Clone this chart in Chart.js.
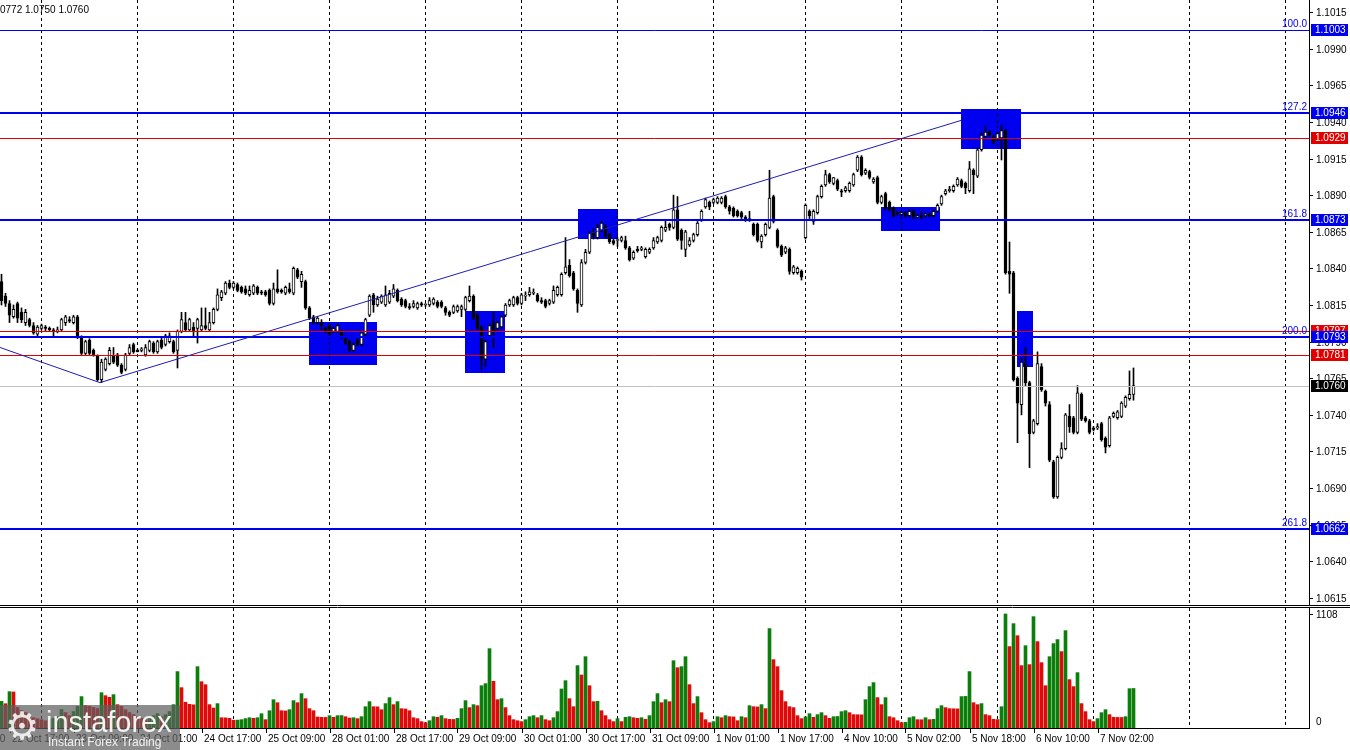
<!DOCTYPE html>
<html>
<head>
<meta charset="utf-8">
<title>EURUSD H1</title>
<script src="https://cdn.jsdelivr.net/npm/chart.js@4.4.1/dist/chart.umd.min.js"></script>
<style>
  html, body { margin: 0; padding: 0; background: #fff; }
  #wrap { position: relative; width: 1350px; height: 750px; overflow: hidden; }
  #priceChart { position: absolute; left: 0; top: 0; }
  #volChart { position: absolute; left: 0; top: 606px; }
  #logo { position: absolute; left: 0; top: 705px; width: 180px; height: 45px; background: rgba(95, 95, 95, 0.72); color: #f2f2f2; font-family: "Liberation Sans", Arial, sans-serif; }
  #logo .gear { position: absolute; left: 5px; top: 0; font: 38px "DejaVu Sans"; line-height: 42px; color: rgba(255,255,255,0.85); }
  #logo .name { position: absolute; left: 46px; top: 2px; font-size: 29px; line-height: 30px; }
  #logo .sub { position: absolute; left: 48px; top: 31px; font-size: 12px; line-height: 13px; }
</style>
</head>
<body>
<div id="wrap">
  <canvas id="priceChart" width="1350" height="606"></canvas>
  <canvas id="volChart" width="1350" height="144"></canvas>
  <div id="logo"><span class="gear">&#9881;</span><span class="name">instaforex</span><span class="sub">Instant Forex Trading</span></div>
</div>
<script>
// EURUSD H1, 22 Oct 14:00 .. 7 Nov 03:00
const opens = [
  1.0831,1.0821,1.0816,1.0807,1.0816,1.0810,1.0803,1.0805,1.0801,1.0795,1.0799,1.0800,1.0799,1.0798,1.0797,1.0798,1.0803,1.0805,1.0803,1.0807,
  1.0793,1.0782,1.0791,1.0784,1.0780,1.0764,1.0771,1.0775,1.0780,1.0781,1.0774,1.0771,1.0782,1.0788,1.0784,1.0784,1.0781,1.0784,1.0789,1.0783,
  1.0791,1.0788,1.0790,1.0790,1.0784,1.0797,1.0803,1.0798,1.0800,1.0799,1.0798,1.0801,1.0798,1.0803,1.0812,1.0820,1.0823,1.0830,1.0827,1.0829,
  1.0827,1.0826,1.0822,1.0823,1.0827,1.0824,1.0824,1.0825,1.0816,1.0826,1.0825,1.0823,1.0826,1.0823,1.0839,1.0831,1.0831,1.0813,1.0807,1.0803,
  1.0803,1.0799,1.0801,1.0797,1.0797,1.0797,1.0793,1.0790,1.0784,1.0791,1.0788,1.0795,1.0808,1.0822,1.0815,1.0817,1.0815,1.0817,1.0821,1.0825,
  1.0819,1.0818,1.0814,1.0814,1.0813,1.0816,1.0815,1.0815,1.0816,1.0817,1.0817,1.0813,1.0810,1.0810,1.0811,1.0812,1.0812,1.0818,1.0821,1.0808,
  1.0800,1.0778,1.0794,1.0803,1.0799,1.0800,1.0808,1.0815,1.0815,1.0820,1.0816,1.0821,1.0822,1.0823,1.0822,1.0818,1.0818,1.0816,1.0817,1.0822,
  1.0822,1.0837,1.0842,1.0837,1.0825,1.0815,1.0844,1.0851,1.0865,1.0861,1.0866,1.0868,1.0863,1.0859,1.0859,1.0859,1.0859,1.0854,1.0847,1.0853,
  1.0853,1.0848,1.0851,1.0854,1.0858,1.0859,1.0866,1.0870,1.0868,1.0880,1.0866,1.0853,1.0856,1.0859,1.0863,1.0873,1.0882,1.0885,1.0885,1.0885,
  1.0885,1.0889,1.0882,1.0881,1.0879,1.0878,1.0875,1.0874,1.0870,1.0870,1.0858,1.0863,1.0868,1.0889,1.0866,1.0855,1.0851,1.0853,1.0837,1.0837,
  1.0838,1.0861,1.0879,1.0872,1.0878,1.0889,1.0897,1.0904,1.0898,1.0900,1.0893,1.0893,1.0893,1.0897,1.0907,1.0916,1.0905,1.0906,1.0899,1.0902,
  1.0885,1.0891,1.0885,1.0881,1.0878,1.0877,1.0878,1.0876,1.0879,1.0875,1.0876,1.0876,1.0877,1.0876,1.0879,1.0884,1.0891,1.0893,1.0893,1.0897,
  1.0900,1.0898,1.0893,1.0907,1.0903,1.0921,1.0930,1.0933,1.0930,1.0928,1.0929,1.0934,1.0838,1.0837,1.0765,1.0747,1.0775,1.0762,1.0728,1.0734,
  1.0773,1.0756,1.0747,1.0708,1.0684,1.0711,1.0717,1.0739,1.0738,1.0728,1.0754,1.0738,1.0736,1.0731,1.0731,1.0734,1.0724,1.0719,1.0739,1.0738,
  1.0739,1.0746,1.0751,1.0754
];
const highs = [
  1.0836,1.0823,1.0818,1.0815,1.0817,1.0813,1.0812,1.0806,1.0803,1.0801,1.0802,1.0801,1.0800,1.0799,1.0800,1.0806,1.0808,1.0807,1.0808,1.0808,
  1.0794,1.0791,1.0792,1.0785,1.0781,1.0778,1.0779,1.0786,1.0786,1.0782,1.0775,1.0782,1.0788,1.0789,1.0785,1.0786,1.0788,1.0791,1.0790,1.0791,
  1.0793,1.0795,1.0796,1.0791,1.0798,1.0810,1.0810,1.0806,1.0803,1.0806,1.0813,1.0813,1.0810,1.0813,1.0826,1.0825,1.0831,1.0832,1.0831,1.0830,
  1.0828,1.0828,1.0828,1.0829,1.0828,1.0825,1.0825,1.0826,1.0830,1.0839,1.0826,1.0828,1.0830,1.0841,1.0840,1.0838,1.0832,1.0814,1.0808,1.0807,
  1.0805,1.0800,1.0802,1.0800,1.0802,1.0798,1.0794,1.0791,1.0789,1.0793,1.0797,1.0806,1.0822,1.0823,1.0821,1.0822,1.0828,1.0825,1.0829,1.0826,
  1.0820,1.0819,1.0816,1.0818,1.0817,1.0817,1.0816,1.0820,1.0820,1.0818,1.0818,1.0814,1.0811,1.0815,1.0815,1.0815,1.0821,1.0828,1.0822,1.0809,
  1.0801,1.0791,1.0802,1.0810,1.0804,1.0808,1.0816,1.0819,1.0821,1.0821,1.0823,1.0824,1.0827,1.0826,1.0823,1.0820,1.0819,1.0819,1.0828,1.0828,
  1.0837,1.0861,1.0846,1.0838,1.0826,1.0846,1.0853,1.0865,1.0867,1.0870,1.0872,1.0870,1.0864,1.0860,1.0861,1.0862,1.0862,1.0855,1.0852,1.0855,
  1.0855,1.0854,1.0854,1.0861,1.0862,1.0869,1.0873,1.0871,1.0890,1.0889,1.0867,1.0866,1.0861,1.0864,1.0872,1.0880,1.0888,1.0886,1.0888,1.0889,
  1.0889,1.0890,1.0883,1.0882,1.0880,1.0879,1.0876,1.0879,1.0871,1.0871,1.0863,1.0871,1.0907,1.0890,1.0867,1.0856,1.0855,1.0854,1.0842,1.0841,
  1.0839,1.0884,1.0880,1.0880,1.0890,1.0897,1.0907,1.0905,1.0902,1.0901,1.0894,1.0896,1.0899,1.0905,1.0917,1.0917,1.0908,1.0907,1.0902,1.0903,
  1.0890,1.0892,1.0886,1.0882,1.0879,1.0879,1.0879,1.0880,1.0880,1.0877,1.0879,1.0878,1.0878,1.0880,1.0884,1.0890,1.0894,1.0896,1.0897,1.0902,
  1.0901,1.0899,1.0913,1.0908,1.0922,1.0933,1.0937,1.0934,1.0931,1.0933,1.0938,1.0935,1.0858,1.0838,1.0766,1.0779,1.0786,1.0763,1.0737,1.0783,
  1.0775,1.0757,1.0749,1.0709,1.0712,1.0721,1.0741,1.0747,1.0739,1.0760,1.0755,1.0739,1.0737,1.0732,1.0734,1.0735,1.0725,1.0739,1.0742,1.0743,
  1.0749,1.0753,1.0770,1.0772
];
const lows = [
  1.0815,1.0814,1.0803,1.0806,1.0803,1.0803,1.0801,1.0800,1.0795,1.0793,1.0798,1.0797,1.0797,1.0794,1.0796,1.0797,1.0801,1.0803,1.0802,1.0792,
  1.0781,1.0781,1.0781,1.0780,1.0763,1.0762,1.0770,1.0774,1.0775,1.0773,1.0768,1.0770,1.0781,1.0782,1.0783,1.0783,1.0780,1.0783,1.0782,1.0782,
  1.0785,1.0787,1.0789,1.0782,1.0772,1.0796,1.0797,1.0797,1.0793,1.0789,1.0797,1.0798,1.0797,1.0802,1.0811,1.0818,1.0822,1.0826,1.0826,1.0824,
  1.0823,1.0822,1.0821,1.0822,1.0822,1.0822,1.0821,1.0815,1.0815,1.0823,1.0823,1.0822,1.0823,1.0822,1.0833,1.0827,1.0812,1.0805,1.0802,1.0802,
  1.0798,1.0796,1.0793,1.0796,1.0796,1.0792,1.0788,1.0783,1.0783,1.0787,1.0787,1.0794,1.0807,1.0810,1.0814,1.0816,1.0814,1.0816,1.0820,1.0817,
  1.0814,1.0813,1.0812,1.0813,1.0812,1.0814,1.0814,1.0814,1.0815,1.0813,1.0813,1.0808,1.0807,1.0809,1.0810,1.0807,1.0811,1.0817,1.0805,1.0798,
  1.0771,1.0773,1.0793,1.0786,1.0798,1.0799,1.0807,1.0814,1.0814,1.0815,1.0815,1.0818,1.0821,1.0822,1.0817,1.0816,1.0813,1.0815,1.0816,1.0821,
  1.0821,1.0836,1.0834,1.0825,1.0810,1.0814,1.0843,1.0850,1.0860,1.0860,1.0865,1.0861,1.0857,1.0856,1.0855,1.0858,1.0853,1.0845,1.0846,1.0851,
  1.0852,1.0847,1.0850,1.0853,1.0857,1.0858,1.0865,1.0866,1.0867,1.0859,1.0853,1.0848,1.0855,1.0858,1.0862,1.0872,1.0881,1.0880,1.0884,1.0884,
  1.0884,1.0881,1.0877,1.0875,1.0875,1.0874,1.0872,1.0872,1.0862,1.0858,1.0854,1.0862,1.0867,1.0871,1.0854,1.0848,1.0850,1.0836,1.0836,1.0836,
  1.0832,1.0860,1.0874,1.0870,1.0877,1.0888,1.0896,1.0898,1.0897,1.0893,1.0889,1.0892,1.0892,1.0896,1.0906,1.0903,1.0904,1.0901,1.0898,1.0884,
  1.0884,1.0880,1.0879,1.0875,1.0876,1.0876,1.0875,1.0875,1.0874,1.0874,1.0874,1.0875,1.0875,1.0875,1.0878,1.0883,1.0890,1.0892,1.0892,1.0896,
  1.0895,1.0891,1.0892,1.0891,1.0902,1.0920,1.0929,1.0930,1.0925,1.0927,1.0914,1.0836,1.0823,1.0763,1.0721,1.0740,1.0760,1.0704,1.0727,1.0733,
  1.0756,1.0746,1.0708,1.0683,1.0683,1.0710,1.0716,1.0728,1.0727,1.0727,1.0736,1.0735,1.0727,1.0729,1.0730,1.0722,1.0714,1.0718,1.0738,1.0737,
  1.0738,1.0745,1.0750,1.0750
];
const closes = [
  1.0818,1.0816,1.0808,1.0812,1.0806,1.0805,1.0810,1.0801,1.0796,1.0800,1.0801,1.0799,1.0798,1.0797,1.0798,1.0805,1.0807,1.0804,1.0807,1.0793,
  1.0782,1.0790,1.0782,1.0781,1.0764,1.0776,1.0778,1.0784,1.0776,1.0774,1.0769,1.0781,1.0786,1.0783,1.0783,1.0785,1.0786,1.0790,1.0783,1.0790,
  1.0786,1.0794,1.0794,1.0783,1.0797,1.0805,1.0798,1.0805,1.0797,1.0805,1.0801,1.0799,1.0803,1.0812,1.0822,1.0824,1.0830,1.0827,1.0830,1.0825,
  1.0824,1.0823,1.0825,1.0828,1.0823,1.0823,1.0822,1.0816,1.0826,1.0824,1.0824,1.0827,1.0824,1.0840,1.0834,1.0836,1.0813,1.0806,1.0803,1.0806,
  1.0801,1.0797,1.0795,1.0799,1.0801,1.0793,1.0789,1.0784,1.0788,1.0788,1.0796,1.0805,1.0821,1.0815,1.0819,1.0821,1.0822,1.0823,1.0826,1.0818,
  1.0815,1.0814,1.0813,1.0816,1.0816,1.0815,1.0815,1.0818,1.0819,1.0814,1.0814,1.0810,1.0808,1.0814,1.0814,1.0814,1.0820,1.0821,1.0806,1.0799,
  1.0778,1.0790,1.0801,1.0797,1.0803,1.0807,1.0815,1.0818,1.0820,1.0816,1.0822,1.0821,1.0824,1.0823,1.0818,1.0817,1.0814,1.0818,1.0825,1.0827,
  1.0836,1.0841,1.0835,1.0826,1.0816,1.0844,1.0851,1.0864,1.0862,1.0868,1.0871,1.0862,1.0858,1.0857,1.0859,1.0861,1.0854,1.0846,1.0851,1.0852,
  1.0854,1.0853,1.0853,1.0859,1.0861,1.0868,1.0868,1.0868,1.0880,1.0860,1.0859,1.0865,1.0859,1.0863,1.0871,1.0879,1.0887,1.0882,1.0887,1.0888,
  1.0888,1.0882,1.0879,1.0876,1.0876,1.0875,1.0873,1.0873,1.0863,1.0859,1.0862,1.0870,1.0888,1.0872,1.0855,1.0849,1.0854,1.0838,1.0841,1.0840,
  1.0834,1.0883,1.0876,1.0879,1.0889,1.0896,1.0904,1.0899,1.0902,1.0894,1.0892,1.0895,1.0898,1.0904,1.0916,1.0904,1.0907,1.0902,1.0901,1.0885,
  1.0889,1.0881,1.0880,1.0876,1.0877,1.0878,1.0876,1.0879,1.0875,1.0876,1.0875,1.0877,1.0876,1.0879,1.0883,1.0889,1.0893,1.0894,1.0896,1.0901,
  1.0896,1.0895,1.0908,1.0904,1.0921,1.0931,1.0933,1.0931,1.0926,1.0932,1.0934,1.0837,1.0836,1.0764,1.0748,1.0776,1.0762,1.0727,1.0736,1.0775,
  1.0757,1.0748,1.0709,1.0684,1.0711,1.0717,1.0740,1.0732,1.0728,1.0755,1.0737,1.0736,1.0728,1.0730,1.0732,1.0723,1.0718,1.0738,1.0741,1.0742,
  1.0748,1.0752,1.0754,1.0760
];
const volumes = [
  259,236,353,350,200,170,150,120,100,90,80,70,85,95,110,180,150,120,160,210,
  305,217,210,200,190,343,314,298,324,227,210,178,150,130,110,95,80,100,120,140,
  110,130,160,227,548,392,250,230,225,596,450,421,227,194,237,100,99,94,75,77,
  81,91,100,94,100,139,81,168,275,246,168,166,178,266,246,334,285,188,168,107,
  104,103,120,104,120,121,110,97,100,91,110,207,256,207,206,178,237,295,227,256,
  188,185,168,100,91,62,52,71,110,104,120,91,84,83,94,188,266,198,227,217,
  411,431,771,454,275,285,198,120,81,71,62,81,110,120,100,120,81,71,100,159,
  379,460,285,207,606,515,693,411,256,259,168,120,81,62,91,62,104,110,100,94,
  100,84,120,256,334,246,275,256,654,586,596,693,421,237,305,149,81,52,62,110,
  100,120,110,108,71,110,100,217,207,205,227,188,966,664,596,363,256,207,198,120,
  91,108,139,104,130,149,120,94,110,112,159,168,149,130,129,128,275,402,441,295,
  227,295,110,100,71,52,55,100,110,81,80,100,81,84,188,217,198,188,187,186,
  305,307,548,246,227,237,130,120,84,82,207,1108,791,1014,897,606,800,616,1082,839,
  635,411,693,820,859,742,946,470,402,538,237,159,81,62,91,149,178,130,104,103,
  102,110,382,384
];

const timeLabels = ['22 Oct 01:00', '22 Oct 17:00', '23 Oct 09:00', '24 Oct 01:00', '24 Oct 17:00', '25 Oct 09:00',
  '28 Oct 01:00', '28 Oct 17:00', '29 Oct 09:00', '30 Oct 01:00', '30 Oct 17:00', '31 Oct 09:00', '1 Nov 01:00',
  '1 Nov 17:00', '4 Nov 10:00', '5 Nov 02:00', '5 Nov 18:00', '6 Nov 10:00', '7 Nov 02:00'];
const timeLabelBars = [-13, 3, 19, 35, 51, 67, 83, 99, 115, 131, 147, 163, 179, 195, 211, 227, 243, 259, 275];
const dayStartBars = [10, 34, 58, 82, 106, 130, 154, 178, 201, 225, 249, 273, 297, 321];
const priceTicks = [1.0615, 1.0640, 1.0665, 1.0690, 1.0715, 1.0740, 1.0765, 1.0790, 1.0815,
  1.0840, 1.0865, 1.0890, 1.0915, 1.0940, 1.0965, 1.0990, 1.1015];

// fibo levels, support/resistance and the zones marked on the chart
const fibLevels = [1.1003, 1.0946, 1.0873, 1.0793, 1.0662];
const fibNames = ['100.0', '127.2', '161.8', '200.0', '261.8'];
const redLevels = [1.0929, 1.0797, 1.0781];
const bidPrice = 1.0760;
const zones = [
  [76.9, 93.8, 1.08036, 1.07745],
  [115.9, 125.9, 1.08109, 1.07684],
  [144.0, 153.9, 1.08805, 1.08601],
  [219.9, 234.75, 1.08822, 1.08658],
  [239.9, 254.9, 1.09488, 1.09217],
  [253.9, 257.8, 1.08109, 1.07729]
];
const trendPoints = [[-0.375, 1.0786], [24.6, 1.0762], [239.9, 1.0941]];
const ohlcText = '0772 1.0750 1.0760';

const FONT = '10px "Liberation Sans", Arial, sans-serif';
const BLUE = '#0000f0';
const RED = '#e00000';
const X_MIN = -0.375, X_MAX = 326.875;
const AXIS_X = 1309;

const bars = opens.map((o, i) => i);

function drawDayGrid(ctx, xs, top, bottom) {
    ctx.save();
    ctx.strokeStyle = '#000';
    ctx.lineWidth = 1;
    ctx.setLineDash([3, 3]);
    dayStartBars.forEach(d => {
        const px = Math.floor(xs.getPixelForValue(d)) + 0.5;
        ctx.beginPath();
        ctx.moveTo(px, top);
        ctx.lineTo(px, bottom);
        ctx.stroke();
    });
    ctx.restore();
}

function hLine(ctx, py, color, width, x0, x1) {
    ctx.strokeStyle = color;
    ctx.lineWidth = width;
    const y = width % 2 ? Math.round(py) + 0.5 : Math.round(py);
    ctx.beginPath();
    ctx.moveTo(x0, y);
    ctx.lineTo(x1, y);
    ctx.stroke();
}

function priceTag(ctx, py, text, bg) {
    const y = Math.round(py);
    ctx.fillStyle = bg;
    ctx.fillRect(AXIS_X + 2, y - 6, 37, 12);
    ctx.fillStyle = '#fff';
    ctx.fillText(text, AXIS_X + 6, y);
}

const pricePaint = {
    id: 'pricePaint',
    beforeDatasetsDraw(chart) {
        const { ctx, chartArea: a, scales: { x, y } } = chart;
        ctx.save();
        ctx.fillStyle = BLUE;
        zones.forEach(z => {
            const x0 = x.getPixelForValue(z[0]), x1 = x.getPixelForValue(z[1]);
            const y0 = y.getPixelForValue(z[2]), y1 = y.getPixelForValue(z[3]);
            ctx.fillRect(Math.round(x0), Math.round(y0), Math.round(x1 - x0), Math.round(y1 - y0));
        });
        ctx.restore();
        drawDayGrid(ctx, x, a.top, a.bottom);
    },
    afterDatasetsDraw(chart) {
        const { ctx, chartArea: a, scales: { x, y } } = chart;
        ctx.save();
        hLine(ctx, y.getPixelForValue(bidPrice), '#c0c0c0', 1, a.left, a.right);
        redLevels.forEach(p => hLine(ctx, y.getPixelForValue(p), RED, 1, a.left, a.right));
        fibLevels.forEach((p, k) => hLine(ctx, y.getPixelForValue(p), BLUE, k === 0 ? 1 : 2, a.left, a.right));

        // trend lines
        ctx.strokeStyle = '#1c1cb4';
        ctx.lineWidth = 1;
        ctx.beginPath();
        trendPoints.forEach((t, k) => {
            const px = x.getPixelForValue(t[0]), py = y.getPixelForValue(t[1]);
            if (k === 0) ctx.moveTo(px, py); else ctx.lineTo(px, py);
        });
        ctx.stroke();

        // fibo captions
        ctx.font = FONT;
        ctx.fillStyle = BLUE;
        ctx.textAlign = 'right';
        ctx.textBaseline = 'bottom';
        fibLevels.forEach((p, k) => ctx.fillText(fibNames[k], AXIS_X - 2, Math.round(y.getPixelForValue(p)) - 1));
        ctx.restore();
    },
    afterDraw(chart) {
        const { ctx, chartArea: a, scales: { y } } = chart;
        ctx.save();
        ctx.fillStyle = '#fff';
        ctx.fillRect(AXIS_X + 1, 0, 1350 - AXIS_X, a.bottom);
        // frame
        ctx.strokeStyle = '#000';
        ctx.lineWidth = 1;
        ctx.beginPath();
        ctx.moveTo(AXIS_X + 0.5, 0);
        ctx.lineTo(AXIS_X + 0.5, a.bottom);
        ctx.moveTo(0, a.bottom + 0.5);
        ctx.lineTo(1350, a.bottom + 0.5);
        ctx.stroke();

        ctx.font = FONT;
        ctx.textAlign = 'left';
        ctx.textBaseline = 'middle';
        ctx.fillStyle = '#000';
        priceTicks.forEach(v => {
            const py = Math.round(y.getPixelForValue(v));
            ctx.fillRect(AXIS_X + 1, py, 3, 1);
            ctx.fillText(v.toFixed(4), AXIS_X + 7, py + 1);
        });

        redLevels.forEach(p => priceTag(ctx, y.getPixelForValue(p), p.toFixed(4), RED));
        fibLevels.forEach(p => priceTag(ctx, y.getPixelForValue(p), p.toFixed(4), BLUE));
        priceTag(ctx, y.getPixelForValue(bidPrice), bidPrice.toFixed(4), '#000');

        ctx.fillStyle = '#000';
        ctx.fillText(ohlcText, 0, 10);
        ctx.restore();
    }
};

const volPaint = {
    id: 'volPaint',
    beforeDatasetsDraw(chart) {
        const { ctx, chartArea: a, scales: { x } } = chart;
        drawDayGrid(ctx, x, a.top, a.bottom);
    },
    afterDraw(chart) {
        const { ctx, chartArea: a, scales: { x, y } } = chart;
        ctx.save();
        ctx.strokeStyle = '#000';
        ctx.lineWidth = 1;
        ctx.beginPath();
        ctx.moveTo(0, 1.5);
        ctx.lineTo(1350, 1.5);
        ctx.moveTo(AXIS_X + 0.5, 1);
        ctx.lineTo(AXIS_X + 0.5, a.bottom + 1);
        ctx.moveTo(0, a.bottom + 0.5);
        ctx.lineTo(AXIS_X, a.bottom + 0.5);
        ctx.stroke();

        ctx.font = FONT;
        ctx.fillStyle = '#000';
        ctx.textBaseline = 'middle';
        ctx.textAlign = 'left';
        const top = Math.max(...volumes);
        ctx.fillText(String(top), AXIS_X + 7, y.getPixelForValue(top) + 1);
        ctx.fillRect(AXIS_X + 1, Math.round(y.getPixelForValue(top)), 3, 1);
        ctx.fillText('0', AXIS_X + 7, y.getPixelForValue(0) - 6);

        timeLabelBars.forEach((b, k) => {
            const px = Math.round(x.getPixelForValue(b));
            ctx.fillRect(px - 4, a.bottom + 1, 1, 4);
            ctx.fillText(timeLabels[k], px - 2, a.bottom + 11);
        });
        ctx.restore();
    }
};

new Chart(document.getElementById('priceChart'), {
    type: 'bar',
    data: {
        datasets: [
            {
                label: 'wick',
                data: bars.map(i => ({ x: i, y: [lows[i], highs[i]] })),
                backgroundColor: '#000',
                barThickness: 1,
                grouped: false,
                order: 2
            },
            {
                label: 'body',
                data: bars.map(i => ({ x: i, y: [opens[i], closes[i]] })),
                backgroundColor: bars.map(i => closes[i] >= opens[i] ? '#fff' : '#000'),
                borderColor: '#000',
                borderWidth: 1,
                borderSkipped: false,
                barThickness: 3,
                minBarLength: 1,
                grouped: false,
                order: 1
            }
        ]
    },
    options: {
        responsive: false,
        animation: false,
        events: [],
        layout: { padding: { left: 0, right: 1350 - AXIS_X, top: 0, bottom: 1 } },
        scales: {
            x: { type: 'linear', min: X_MIN, max: X_MAX, offset: false, display: false },
            y: { min: 1.06102, max: 1.10232, display: false }
        },
        plugins: { legend: { display: false }, tooltip: { enabled: false } }
    },
    plugins: [pricePaint]
});

new Chart(document.getElementById('volChart'), {
    type: 'bar',
    data: {
        datasets: [{
            label: 'Volumes',
            data: bars.map(i => ({ x: i, y: volumes[i] })),
            backgroundColor: bars.map(i => (i === 0 || volumes[i] > volumes[i - 1]) ? '#0a7f0a' : '#e00a0a'),
            barThickness: 3,
            grouped: false
        }]
    },
    options: {
        responsive: false,
        animation: false,
        events: [],
        layout: { padding: { left: 0, right: 1350 - AXIS_X, top: 2, bottom: 22 } },
        scales: {
            x: { type: 'linear', min: X_MIN, max: X_MAX, offset: false, display: false },
            y: { min: 0, max: 1166, display: false }
        },
        plugins: { legend: { display: false }, tooltip: { enabled: false } }
    },
    plugins: [volPaint]
});
</script>
</body>
</html>
